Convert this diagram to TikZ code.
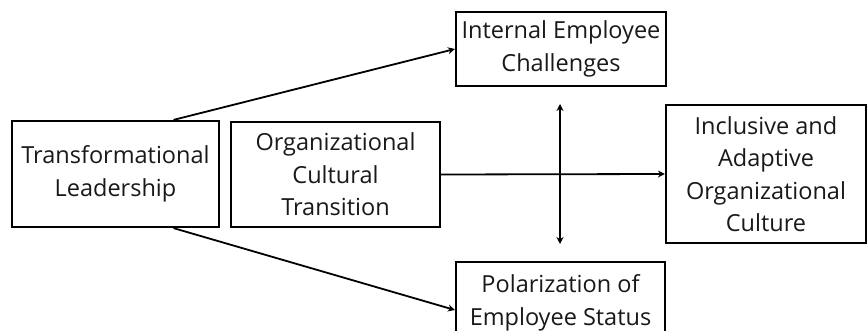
\documentclass[tikz,border=0pt]{standalone}
\usepackage{fontspec}
\setmainfont{Open Sans}
\usetikzlibrary{arrows.meta}
\begin{document}
\begin{tikzpicture}[x=1pt,y=-1pt,
  box/.style={draw=black,line width=2.2pt,rectangle,align=center,inner sep=0pt,
    font=\fontsize{23.5}{32.5}\selectfont,text=black!90},
  link/.style={line width=1.8pt,-{Stealth[length=7pt,width=7pt]}},
  both/.style={line width=1.8pt,{Stealth[length=7pt,width=7pt]}-{Stealth[length=7pt,width=7pt]}}]
\useasboundingbox (0,0) rectangle (867,331);
\clip (0,0) rectangle (867,331);
\fill[white] (0,0) rectangle (867,331);
% boxes
\node[box,minimum width=207pt,minimum height=106pt] (tl) at (115.5,174) {Transformational\\Leadership};
\node[box,minimum width=209pt,minimum height=105pt] (oct) at (335.5,174.5) {Organizational\\Cultural\\Transition};
\node[box,minimum width=210pt,minimum height=74pt] (iec) at (561,49) {Internal Employee\\Challenges};
\node[box,minimum width=209pt,minimum height=90pt,text depth=14pt] (pes) at (560.5,307) {Polarization of\\Employee Status};
\node[box,minimum width=200pt,minimum height=138pt] (iaoc) at (766,174) {Inclusive and\\Adaptive\\Organizational\\Culture};
% connectors
\coordinate (up) at (560,104);
\coordinate (dn) at (560,244);
\draw[link] (tl.north) ++(58,0) -- (iec.west);
\draw[link] (tl.south) ++(58,0) -- ([yshift=-3pt]pes.west);
\draw[link] (oct.east) -- (iaoc.west);
\draw[both] (up) -- (dn);
\end{tikzpicture}
\end{document}
